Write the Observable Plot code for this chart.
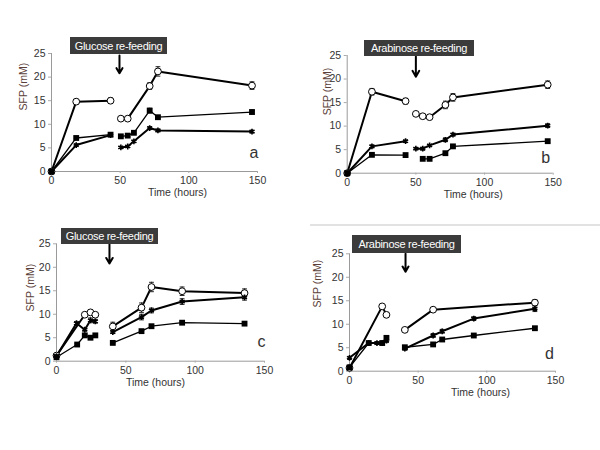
<!DOCTYPE html>
<html><head><meta charset="utf-8">
<script src="https://cdn.jsdelivr.net/npm/d3@7"></script>
<script src="https://cdn.jsdelivr.net/npm/@observablehq/plot@0.6"></script>
<style>
body{margin:0;background:#fff;}
#page{position:relative;width:600px;height:450px;background:#fff;font-family:"Liberation Sans",Arial,sans-serif;overflow:hidden;}
.panel{position:absolute;}
.box{position:absolute;background:#3b3b3b;color:#fff;font-size:11px;display:flex;align-items:center;justify-content:center;white-space:nowrap;letter-spacing:-0.3px;}
.rule{position:absolute;background:#e2e2e2;}
</style></head><body><div id="page"></div>
<script>
// ---- shared ticks ----
const xTicks = [0, 50, 100, 150];
const yTicks = [0, 5, 10, 15, 20, 25];

// ---- Panel a: Glucose re-feeding ----
const aCircT = [0, 18, 43, 50.5, 55.5, 71.5, 77.5, 146];
const aCircV = [0, 14.8, 15.0, 11.2, 11.2, 18.1, 21.2, 18.2];
const aCircE = [0, 0.5, 0.6, 0.3, 0.3, 0.7, 1.0, 0.8];
const aSqT = [0, 18, 43, 50.5, 55.5, 60, 71.5, 77.5, 146];
const aSqV = [0, 7.1, 7.8, 7.45, 7.6, 8.2, 12.9, 11.5, 12.6];
const aSqE = [0, 0.2, 0.3, 0.2, 0.2, 0.2, 0.5, 0.3, 0.4];
const aStT = [0, 18, 43, 50.5, 55.5, 60, 71.5, 77.5, 146];
const aStV = [0, 5.6, 7.7, 5.1, 5.3, 6.4, 9.2, 8.7, 8.45];
const aStE = [0, 0.2, 0.3, 0.2, 0.2, 0.2, 0.3, 0.3, 0.3];

// ---- Panel b: Arabinose re-feeding ----
const bCircT = [0, 18, 42.5, 50, 55, 60, 71.5, 77, 146];
const bCircV = [0, 17.3, 15.3, 12.6, 12.1, 11.9, 14.5, 16.1, 18.8];
const bCircE = [0, 0.7, 0.6, 0.4, 0.5, 0.4, 0.8, 0.8, 0.8];
const bStT = [0, 18, 42.5, 50, 55, 60, 71.5, 77, 146];
const bStV = [0, 5.7, 6.8, 5.2, 5.2, 5.9, 7.1, 8.2, 10.1];
const bStE = [0, 0.3, 0.2, 0.2, 0.3, 0.2, 0.4, 0.3, 0.4];
const bSqT = [0, 18, 42.5, 55, 60, 71.5, 77, 146];
const bSqV = [0, 3.9, 3.85, 3.05, 3.05, 4.25, 5.7, 6.8];
const bSqE = [0, 0.2, 0.2, 0.2, 0.2, 0.2, 0.2, 0.3];

// ---- Panel c: Glucose re-feeding ----
const cCircT = [0, 20.4, 24.5, 28, 40.6, 61.3, 68.5, 90.6, 135.6];
const cCircV = [1.2, 9.9, 10.4, 9.9, 7.4, 11.4, 15.8, 14.9, 14.5];
const cCircE = [0, 0.3, 0.4, 0.4, 0.9, 1.0, 1.0, 0.9, 0.9];
const cStT = [0, 14.4, 20.4, 24.5, 28, 40.6, 61.3, 68.5, 90.6, 135.6];
const cStV = [1.1, 8.1, 6.7, 8.7, 8.5, 6.2, 9.4, 10.8, 12.7, 13.6];
const cStE = [0, 0.3, 0.3, 0.5, 0.4, 0.3, 0.6, 0.5, 0.6, 0.6];
const cSqT = [0, 14.9, 20.4, 24.5, 28, 40.6, 61.3, 68.5, 90.6, 135.6];
const cSqV = [0.85, 3.55, 5.5, 5.0, 5.5, 3.9, 6.4, 7.45, 8.2, 8.0];
const cSqE = [0, 0.2, 0.2, 0.2, 0.2, 0.2, 0.3, 0.3, 0.3, 0.3];

// ---- Panel d: Arabinose re-feeding ----
const dCircT = [0, 23.8, 26.9, 40.3, 60.9, 135];
const dCircV = [0.7, 13.8, 12.0, 8.8, 13.1, 14.6];
const dCircE = [0, 0.4, 0.4, 0.3, 0.4, 0.6];
const dStT = [0, 14, 20, 23.8, 26.9, 40.3, 60.9, 67.5, 90.5, 135];
const dStV = [2.85, 6.0, 6.0, 6.0, 6.5, 4.8, 7.6, 8.5, 11.2, 13.3];
const dStE = [0, 0.2, 0.3, 0.3, 0.4, 0.3, 0.4, 0.4, 0.4, 0.6];
const dSqT = [0, 14, 23.8, 26.9, 40.3, 60.9, 67.5, 90.5, 135];
const dSqV = [0.8, 6.0, 6.0, 7.1, 5.1, 5.7, 6.75, 7.6, 9.15];
const dSqE = [0, 0.2, 0.2, 0.3, 0.2, 0.2, 0.2, 0.2, 0.3];

// ---- annotations ----
const refeedLabels = ["Glucose re-feeding", "Arabinose re-feeding", "Glucose re-feeding", "Arabinose re-feeding"];
const refeedTimes = [49.5, 50, 38.2, 40.8];
const segmentBreaks = [46, 46, 34, 34];
const panelLetters = ["a", "b", "c", "d"];
const xLabel = "Time (hours)";
const yLabel = "SFP (mM)";

// ---- styles ----
const styles = {
  circ: {symbol: "circle", fill: "white", stroke: "black", r: 3.4, sw: 2, dotSw: 1},
  sq: {symbol: "square", fill: "black", stroke: "black", r: 3.3, sw: 1.3, dotSw: 0},
  star: {symbol: "asterisk", fill: "none", stroke: "black", r: 2.7, sw: 2, dotSw: 1.6}
};
const capSymbol = {draw(ctx, size) { const r = Math.sqrt(size / Math.PI); ctx.moveTo(-r, 0); ctx.lineTo(r, 0); }};

const layouts = [
  {left: 0, top: 0, width: 290, height: 210, mt: 53, mr: 33, mb: 39, ml: 51,
   box: [70, 37, 97, 17], arrowY: [24.6, 20.8], xl: [23, 24], yl: [-28, -2], let: [1, -14],
   series: [["circ", aCircT, aCircV, aCircE], ["sq", aSqT, aSqV, aSqE], ["star", aStT, aStV, aStE]]},
  {left: 295, top: 0, width: 300, height: 210, mt: 55, mr: 42.3, mb: 37.3, ml: 51.7,
   box: [364, 40, 110, 16], arrowY: [24.8, 20.5], xl: [23, 25], yl: [-20, 1], let: [-3, -10],
   series: [["circ", bCircT, bCircV, bCircE], ["sq", bSqT, bSqV, bSqE], ["star", bStT, bStV, bStE]]},
  {left: 0, top: 210, width: 290, height: 200, mt: 33.3, mr: 26, mb: 49.3, ml: 56,
   box: [61, 228, 97, 16], arrowY: [24.9, 20.8], xl: [-5, 25], yl: [-26, 9], let: [1, -14],
   series: [["circ", cCircT, cCircV, cCircE], ["sq", cSqT, cSqV, cSqE], ["star", cStT, cStV, cStE]]},
  {left: 295, top: 210, width: 300, height: 200, mt: 43.3, mr: 40, mb: 39.3, ml: 54,
   box: [352, 235, 109, 18], arrowY: [25, 21.2], xl: [28, 25], yl: [-32, -5], let: [-1.5, -12],
   series: [["circ", dCircT, dCircV, dCircE], ["sq", dSqT, dSqV, dSqE], ["star", dStT, dStV, dStE]]}
];

const page = document.getElementById("page");

layouts.forEach((L, p) => {
  const rows = L.series.flatMap(([key, T, V, E]) =>
    T.map((t, i) => ({t, v: V[i], e: E[i], key, seg: t < segmentBreaks[p] ? 0 : 1})));
  const errRows = rows.filter(d => d.e > 0);
  const marks = [
    Plot.ruleX([0], {stroke: "#9a9a9a", strokeWidth: 1}),
    Plot.ruleY([0], {stroke: "#9a9a9a", strokeWidth: 1}),
    Plot.axisX({ticks: xTicks, tickSize: 2, tickPadding: 3, color: "#333", stroke: "#aaa", label: null, fontSize: 10.5}),
    Plot.axisY({ticks: yTicks, tickSize: 3, tickPadding: 3, color: "#333", stroke: "#aaa", label: null, fontSize: 10.5}),
  ];
  // lines
  for (const [key] of L.series) {
    marks.push(Plot.line(rows.filter(d => d.key === key), {x: "t", y: "v", z: "seg", stroke: "black", strokeWidth: styles[key].sw}));
  }
  // error bars
  marks.push(Plot.ruleX(errRows, {x: "t", y1: d => d.v - d.e, y2: d => d.v + d.e, stroke: "#222", strokeWidth: 1}));
  marks.push(Plot.dot(errRows, {x: "t", y: d => d.v + d.e, symbol: capSymbol, r: 2.4, stroke: "#222", strokeWidth: 1}));
  marks.push(Plot.dot(errRows, {x: "t", y: d => d.v - d.e, symbol: capSymbol, r: 2.4, stroke: "#222", strokeWidth: 1}));
  // markers
  for (const [key] of L.series) {
    const s = styles[key];
    marks.push(Plot.dot(rows.filter(d => d.key === key), {x: "t", y: "v", symbol: s.symbol, r: s.r, fill: s.fill, stroke: s.stroke, strokeWidth: s.dotSw}));
  }
  // refeeding arrow
  marks.push(Plot.arrow([refeedTimes[p]], {x1: d => d, x2: d => d, y1: L.arrowY[0], y2: L.arrowY[1], stroke: "black", strokeWidth: 2, headLength: 7}));
  // labels
  marks.push(Plot.text([xLabel], {frameAnchor: "bottom", dx: L.xl[0], dy: L.xl[1], fontSize: 10.5, fill: "#333"}));
  marks.push(Plot.text([yLabel], {frameAnchor: "left", rotate: -90, dx: L.yl[0], dy: L.yl[1], fontSize: 10.5, fill: "#5a4038"}));
  marks.push(Plot.text([panelLetters[p]], {frameAnchor: "bottom-right", textAnchor: "end", dx: L.let[0], dy: L.let[1], fontSize: 16, fill: "#333"}));

  const chart = Plot.plot({
    width: L.width, height: L.height,
    marginTop: L.mt, marginRight: L.mr, marginBottom: L.mb, marginLeft: L.ml,
    x: {domain: [0, 150]},
    y: {domain: [0, 25]},
    style: {fontFamily: "'Liberation Sans', Arial, sans-serif", fontSize: "10.5px", background: "transparent", overflow: "visible"},
    marks
  });
  const holder = document.createElement("div");
  holder.className = "panel";
  holder.style.left = L.left + "px";
  holder.style.top = L.top + "px";
  holder.appendChild(chart);
  page.appendChild(holder);

  const box = document.createElement("div");
  box.className = "box";
  box.style.left = L.box[0] + "px";
  box.style.top = L.box[1] + "px";
  box.style.width = L.box[2] + "px";
  box.style.height = L.box[3] + "px";
  box.textContent = refeedLabels[p];
  page.appendChild(box);
});

// faint separator line above panel d
const sep = document.createElement("div");
sep.className = "rule";
Object.assign(sep.style, {left: "310px", top: "224px", width: "290px", height: "1.5px"});
page.appendChild(sep);
</script></body></html>
